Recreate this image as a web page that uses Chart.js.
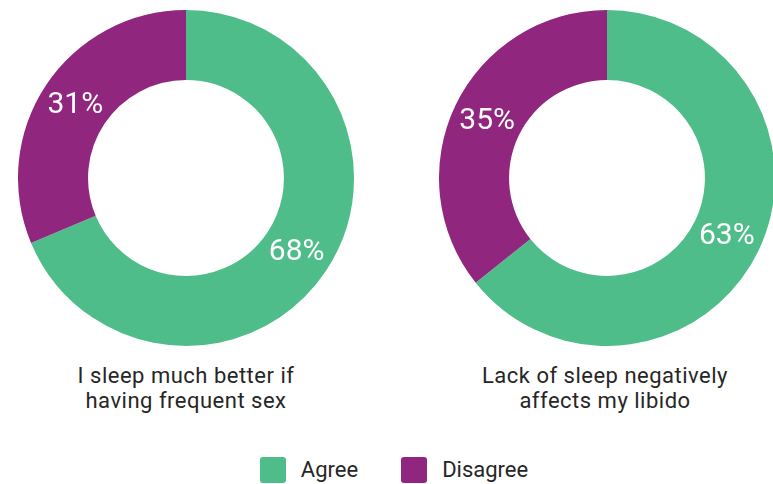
<!DOCTYPE html>
<html>
<head>
<meta charset="utf-8">
<script src="https://cdn.jsdelivr.net/npm/chart.js@4"></script>
<style>
  html, body { margin: 0; padding: 0; background: #fff; }
  body { width: 773px; height: 484px; position: relative; overflow: hidden; font-family: Roboto, 'Noto Sans', sans-serif; }
  .ring { position: absolute; top: 10px; width: 336px; height: 336px; }
  .caption { position: absolute; top: 363px; width: 340px; text-align: center; font-size: 22px; line-height: 25px; letter-spacing: 0.5px; color: #262626; }
  .legend { position: absolute; top: 457px; left: 0; width: 773px; display: flex; justify-content: center; font-size: 22px; line-height: 26px; color: #262626; padding-left: 15px; box-sizing: border-box; }
  .legend span { display: flex; align-items: center; }
  .legend span + span { margin-left: 43px; }
  .legend i { display: inline-block; width: 26px; height: 26px; border-radius: 3px; margin-right: 15px; }
</style>
</head>
<body>
<div class="ring" style="left:18px"><canvas id="sleepChart"></canvas></div>
<div class="ring" style="left:439px"><canvas id="libidoChart"></canvas></div>
<div class="caption" id="capLeft" style="left:16px"></div>
<div class="caption" id="capRight" style="left:435px"></div>
<div class="legend" id="legend"></div>
<script>
// Data
const categories = ['Agree', 'Disagree'];
const sleepValues = [68, 31];
const libidoValues = [63, 35];
const sleepTitle = ['I sleep much better if', 'having frequent sex'];
const libidoTitle = ['Lack of sleep negatively', 'affects my libido'];

const green = '#4fbd8a';
const purple = '#90267d';
const colors = [green, purple];

// white percentage labels drawn in the middle of each arc
const arcLabels = {
  id: 'arcLabels',
  afterDatasetsDraw(chart) {
    const ctx = chart.ctx;
    const values = chart.data.datasets[0].data;
    ctx.save();
    ctx.fillStyle = '#ffffff';
    ctx.font = '30px Roboto, sans-serif';
    ctx.textAlign = 'center';
    ctx.textBaseline = 'middle';
    chart.getDatasetMeta(0).data.forEach((arc, i) => {
      const pos = arc.tooltipPosition();
      ctx.fillText(values[i] + '%', pos.x, pos.y + 1);
    });
    ctx.restore();
  }
};

function makeRing(id, values) {
  return new Chart(document.getElementById(id), {
    type: 'doughnut',
    data: {
      labels: categories,
      datasets: [{ data: values, backgroundColor: colors, borderWidth: 0, hoverOffset: 0 }],
    },
    options: {
      responsive: true,
      maintainAspectRatio: false,
      animation: false,
      cutout: '58.3%',
      layout: { padding: 0 },
      plugins: { legend: { display: false }, tooltip: { enabled: false } },
    },
    plugins: [arcLabels],
  });
}

makeRing('sleepChart', sleepValues);
makeRing('libidoChart', libidoValues);

document.getElementById('capLeft').innerHTML = sleepTitle.join('<br>');
document.getElementById('capRight').innerHTML = libidoTitle.join('<br>');
document.getElementById('legend').innerHTML = categories
  .map((name, i) => `<span><i style="background:${colors[i]}"></i>${name}</span>`)
  .join('');
</script>
</body>
</html>
